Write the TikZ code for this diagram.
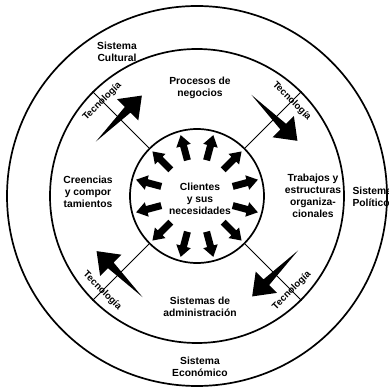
\documentclass[tikz,border=0pt]{standalone}
\usepackage{fontspec}
\setmainfont{Liberation Sans}
\begin{document}
\begin{tikzpicture}[x=1pt,y=1pt,
  txt/.style={font=\bfseries\fontsize{10.3}{12}\selectfont, align=center},
  tec/.style={font=\bfseries\fontsize{9.6}{10}\selectfont, inner sep=1pt},
  ring/.style={draw, circle, line width=1.7pt, inner sep=0pt}]
\useasboundingbox (-197,-194) rectangle (191,196);
\node[ring, minimum size=380pt] (outer) at (0,0) {};
\node[ring, minimum size=294pt] (middle) at (0,0) {};
\node[ring, minimum size=134pt] (inner) at (0,0) {};

\foreach \a in {15,45,...,345}
  \fill[rotate=\a] (37,-3.5) -- (52,-3.5) -- (52,-7.5) -- (63,0) -- (52,7.5) -- (52,3.5) -- (37,3.5) -- cycle;

\foreach \a in {45,135,225,315}
  \draw[line width=0.8pt] (inner.\a) -- (middle.\a);

\foreach \a in {45,135,225,315}
  \fill[rotate=\a] (110,33) -- (106,-12) -- (95,-12) -- (110,-32) -- (125,-12) -- (114,-12) -- cycle;

\node[tec, rotate=-45] (tecA) at (45:134) {Tecnología};
\node[tec, rotate=45] (tecB) at (135:134) {Tecnología};
\node[tec, rotate=-45] (tecC) at (225:134) {Tecnología};
\node[tec, rotate=45] (tecD) at (315:134) {Tecnología};

\node[txt] (cultural) at (-80,144) {Sistema\\Cultural};
\node[txt] (negocios) at (3,108) {Procesos de\\negocios};
\node[txt] (creencias) at (-109,4) {Creencias\\y compor\\tamientos};
\node[txt] (trabajos) at (116,0) {Trabajos y\\estructuras\\organiza-\\cionales};
\node[txt, align=left, anchor=west] (politico) at (152,-1) {Sistema\\Político};
\node[txt] (clientes) at (3,-3) {Clientes\\y sus\\necesidades};
\node[txt] (admin) at (3,-111) {Sistemas de\\administración};
\node[txt] (economico) at (3,-171) {Sistema\\Económico};
\end{tikzpicture}
\end{document}
